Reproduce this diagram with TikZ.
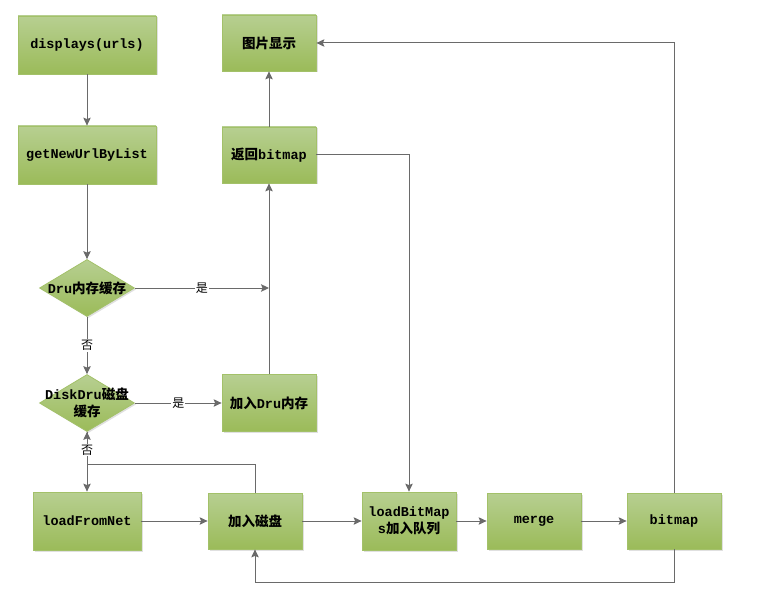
\documentclass[tikz,border=0pt]{standalone}
\usepackage{fontspec}
\setmainfont{Liberation Mono}
\newfontfamily\cjk{Noto Sans CJK SC}
\usetikzlibrary{shapes.geometric,arrows.meta,shadows}
\definecolor{gtop}{HTML}{B7CF91}
\definecolor{gbot}{HTML}{9BBB59}
\definecolor{gedge}{HTML}{A3C169}
\definecolor{lnc}{HTML}{6A6A6A}
\begin{document}
\begin{tikzpicture}[x=1pt,y=-1pt,
  fill box/.style={draw=gedge, line width=0.8pt, top color=gtop, bottom color=gbot,
    drop shadow={shadow xshift=1.5pt, shadow yshift=-1.5pt, fill=black!12, opacity=1}},
  box/.style={fill box, minimum width=94pt, minimum height=56pt, inner sep=0pt,
    font=\bfseries\fontsize{13.5}{17}\selectfont, align=center},
  dia/.style={fill box, shape=diamond, minimum width=95pt, minimum height=57pt, inner sep=0pt},
  txt/.style={font=\bfseries\fontsize{13.5}{17}\selectfont, align=center},
  lbl/.style={fill=white, inner sep=1pt, font=\cjk\fontsize{12}{14}\selectfont},
  line/.style={draw=lnc, line width=1pt},
  conn/.style={line, -{Stealth[length=8pt,width=7.5pt,inset=1.5pt]}}]
\useasboundingbox (0,0) rectangle (774,596);
\fill[white] (0,0) rectangle (774,596);

\node[box, minimum width=138pt, minimum height=58pt] (dis) at (87,45) {displays(urls)};
\node[box, minimum width=138pt, minimum height=58pt] (get) at (87,155) {getNewUrlByList};
\node[box] (show) at (269,43) {\cjk 图片显示};
\node[box] (ret) at (269,155) {{\cjk 返回}bitmap};
\node[dia] (d1) at (87,288) {};
\node[txt] at (d1) {Dru{\cjk 内存缓存}};
\node[dia] (d2) at (87,403) {};
\node[txt] at (d2) {DiskDru{\cjk 磁盘}\\{\cjk 缓存}};
\node[box, minimum height=57pt] (mem) at (269,403) {{\cjk 加入}Dru{\cjk 内存}};
\node[box, minimum width=108pt, minimum height=58pt] (net) at (87,521) {loadFromNet};
\node[box] (disk) at (255,521) {\cjk 加入磁盘};
\node[box, minimum height=58pt] (que) at (409,521) {loadBitMap\\s{\cjk 加入队列}};
\node[box] (mrg) at (534,521) {merge};
\node[box] (bmp) at (674,521) {bitmap};

\coordinate (j1) at (269,288);
\coordinate (jn) at (87,464);
\coordinate (low) at (674,582);

\draw[conn] (dis) -- (get);
\draw[conn] (get.south) -- (d1.north);
\draw[conn] (d1.east) -- node[lbl]{是} (j1);
\draw[conn] (d1.south) -- node[lbl]{否} (d2.north);
\draw[conn] (d2.east) -- node[lbl]{是} (mem.west);
\draw[conn] (mem) -- (ret);
\draw[conn] (ret) -- (show);
\draw[conn] (ret.east) -| (que.north);
\draw[line] (disk.north) |- (jn);
\draw[conn] (jn) -- (d2.south);
\draw[conn] (d2.south) -- node[lbl, pos=0.3]{否} (net.north);
\draw[conn] (net) -- (disk);
\draw[conn] (disk) -- (que);
\draw[conn] (que) -- (mrg);
\draw[conn] (mrg) -- (bmp);
\draw[conn] (bmp.north) |- (show.east);
\draw[conn] (bmp.south) -- (low) -| (disk.south);
\end{tikzpicture}
\end{document}
